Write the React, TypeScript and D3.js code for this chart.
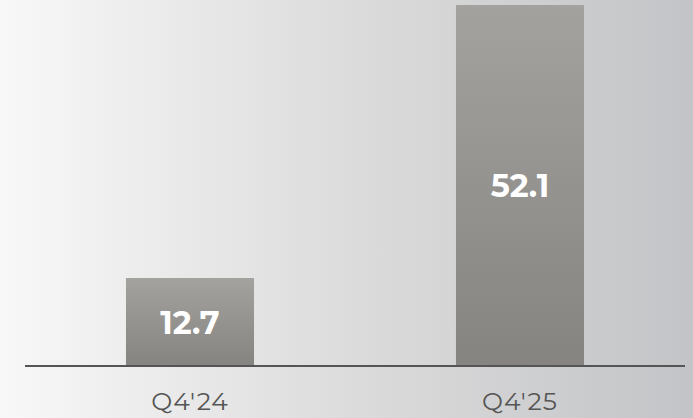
import React from "react";
import * as d3 from "d3";

const categories = ["Q4'24", "Q4'25"];
const values = [12.7, 52.1];
const valueLabels = ["12.7", "52.1"];

const W = 693;
const H = 418;

export default function App() {
  const x = d3.scaleBand().domain(categories).range([25, 685]).paddingInner(0.612).paddingOuter(0.306);
  const y = d3.scaleLinear().domain([0, 52.1]).range([366, 5]);
  const font = "Montserrat, 'Open Sans', Lato, sans-serif";
  return (
    <svg width={W} height={H} style={{ position: "fixed", left: 0, top: 0 }}>
      <defs>
        <linearGradient id="bg" x1="0" y1="0" x2="1" y2="0">
          <stop offset="0" stopColor="#f8f8f8" />
          <stop offset="0.5" stopColor="#dcdcdc" />
          <stop offset="1" stopColor="#c3c4c7" />
        </linearGradient>
        <linearGradient id="bar" x1="0" y1="0" x2="0" y2="1">
          <stop offset="0" stopColor="#a4a29f" />
          <stop offset="1" stopColor="#858480" />
        </linearGradient>
      </defs>
      <rect x={0} y={0} width={W} height={H} fill="url(#bg)" />
      {categories.map((c, i) => {
        const bx = x(c)!;
        const bw = x.bandwidth();
        const top = y(values[i]);
        const bottom = y(0);
        return (
          <g key={c}>
            <rect x={bx} y={top} width={bw} height={bottom - top} fill="url(#bar)" />
            <text
              x={bx + bw / 2}
              y={(top + bottom) / 2}
              dy="0.36em"
              textAnchor="middle"
              fill="#ffffff"
              fontFamily={font}
              fontWeight={700}
              fontSize={32}
            >
              {valueLabels[i]}
            </text>
            <text
              x={bx + bw / 2}
              y={410}
              textAnchor="middle"
              fill="#555555"
              fontFamily={font}
              fontSize={25}
              letterSpacing={1}
            >
              {c}
            </text>
          </g>
        );
      })}
      <line x1={25} x2={685} y1={y(0)} y2={y(0)} stroke="#555555" strokeWidth={2} />
    </svg>
  );
}
